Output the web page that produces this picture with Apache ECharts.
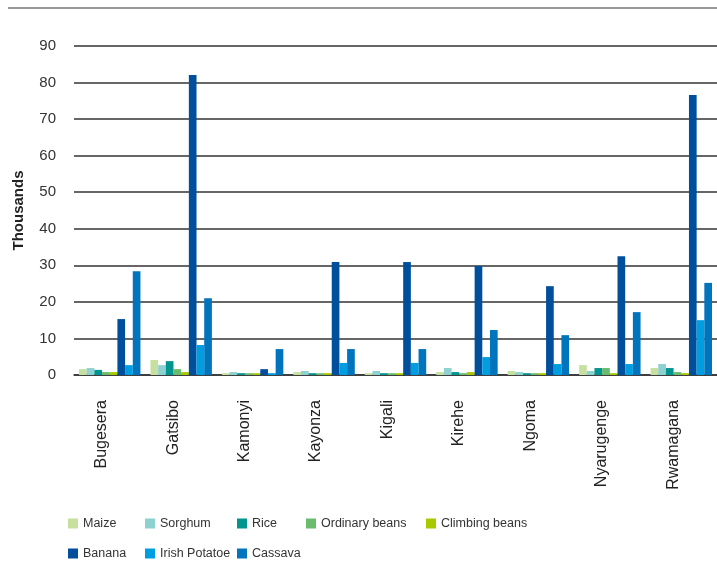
<!DOCTYPE html>
<html><head><meta charset="utf-8">
<script src="https://cdn.jsdelivr.net/npm/echarts@6/dist/echarts.min.js"></script>
<style>html,body{margin:0;padding:0;background:#fff}#c{width:717px;height:585px}</style>
</head><body><div id="c"></div>
<script>
const categories = ["Bugesera","Gatsibo","Kamonyi","Kayonza","Kigali","Kirehe","Ngoma","Nyarugenge","Rwamagana"];
const seriesNames = ["Maize","Sorghum","Rice","Ordinary beans","Climbing beans","Banana","Irish Potatoe","Cassava"];
const maize = [1.6,4.1,0.5,0.8,0.5,0.8,1.1,2.7,1.9];
const sorghum = [1.9,2.7,0.8,1.1,1.1,1.9,0.8,1.1,3.0];
const rice = [1.4,3.8,0.5,0.5,0.5,0.8,0.5,1.9,1.9];
const ordinaryBeans = [0.8,1.6,0.5,0.5,0.5,0.5,0.5,1.9,0.8];
const climbingBeans = [0.8,0.8,0.5,0.5,0.5,0.8,0.5,0.5,0.5];
const banana = [15.3,82.1,1.6,30.9,30.9,29.8,24.3,32.5,76.6];
const irishPotatoe = [2.7,8.2,0.5,3.3,3.3,4.9,3.0,3.0,15.0];
const cassava = [28.4,21.0,7.1,7.1,7.1,12.3,10.9,17.2,25.2];
const yTicks = [0,10,20,30,40,50,60,70,80,90];
const colors = ["#c6e0a0","#8dd1d1","#00968f","#6abb6e","#a8c800","#004f9c","#009ee0","#0075bd"];
const values = [maize,sorghum,rice,ordinaryBeans,climbingBeans,banana,irishPotatoe,cassava];

const font = "'Liberation Sans', Arial, sans-serif";
const legendPos = [[68,517],[145,517],[237,517],[306,517],[426,517],[68,547],[145,547],[237,547]];
const legends = seriesNames.map((n,i)=>({
  data:[n], left:legendPos[i][0], top:legendPos[i][1], itemWidth:10, itemHeight:10, itemGap:0,
  icon:'rect', padding:0, selectedMode:false,
  textStyle:{fontSize:12.5,color:'#333',fontFamily:font}
}));

const chart = echarts.init(document.getElementById('c'));
chart.setOption({
  animation:false,
  color:colors,
  grid:{left:74,right:0,top:46,bottom:210,containLabel:false},
  legend:legends,
  graphic:[{type:'line',shape:{x1:8,y1:8,x2:717,y2:8},style:{stroke:'#333',lineWidth:1.2}}],
  xAxis:{type:'category',data:categories,
    axisLine:{show:true,lineStyle:{color:'#333',width:1.5}},
    axisTick:{show:false},
    axisLabel:{rotate:90,fontSize:16,color:'#222',fontFamily:font,margin:25,interval:0,verticalAlign:'bottom'}},
  yAxis:{type:'value',min:0,max:90,interval:10,
    name:'Thousands',nameLocation:'middle',nameGap:48,
    nameTextStyle:{fontSize:15,fontWeight:'bold',color:'#222',fontFamily:font},
    axisLine:{show:false},axisTick:{show:false},
    axisLabel:{fontSize:15,color:'#333',fontFamily:font,margin:18,
      formatter:v=>yTicks.includes(v)?String(v):''},
    splitLine:{lineStyle:{color:'#333',width:1.5}}},
  series:seriesNames.map((n,i)=>({name:n,type:'bar',data:values[i],barGap:'0%',barCategoryGap:'14%'}))
});
</script></body></html>
